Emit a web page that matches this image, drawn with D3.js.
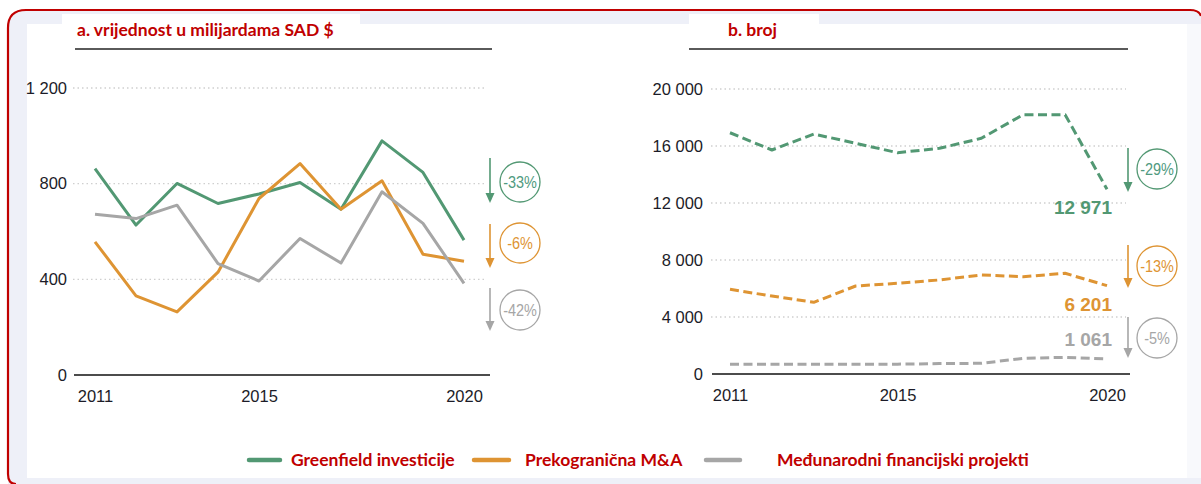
<!DOCTYPE html>
<html><head><meta charset="utf-8">
<script src="https://cdn.jsdelivr.net/npm/d3@7"></script>
<style>
html,body{margin:0;padding:0;background:#fff;}
svg{display:block;}
.tick text{font-family:"Liberation Sans Narrow","Arial Narrow","Liberation Sans",Arial,sans-serif;font-size:16.5px;fill:#1c1c28;}
</style></head>
<body>
<svg id="chart" width="1201" height="484"></svg>
<script>
// ---- data ----
const years = [2011,2012,2013,2014,2015,2016,2017,2018,2019,2020];
const valueGreenfield = [863,627,801,717,757,805,693,979,847,564];
const valueMA = [557,331,264,430,738,884,693,812,505,476];
const valueProject = [672,654,710,466,393,571,468,766,634,383];
const countGreenfield = [16930,15720,16840,16190,15530,15840,16540,18200,18200,12971];
const countMA = [5940,5470,5030,6175,6365,6600,6950,6830,7066,6201];
const countProject = [680,690,690,690,690,730,750,1100,1170,1061];
const valueTicks = [0,400,800,1200];
const countTicks = [0,4000,8000,12000,16000,20000];
const yearTicks = [2011,2015,2020];
const valueChanges = ["-33%","-6%","-42%"];
const countChanges = ["-29%","-13%","-5%"];
const countLastLabels = ["12 971","6 201","1 061"];
const seriesNames = ["Greenfield investicije","Prekogranična M&A","Međunarodni financijski projekti"];
const panelTitles = ["a. vrijednost u milijardama SAD $","b. broj"];
const colors = ["#529873","#de9433","#a6a6a6"];

const svg = d3.select("#chart");
const red = "#c00000";
const fmt = d => d3.format(",")(d).replace(/,/g," ");

// ---- frame ----
svg.append("path")
  .attr("d","M8,484 L8,28 Q8,10 26,10 L1190,10 Q1201,10 1201,20 L1201,484 Z")
  .attr("fill","#eef0f8");
svg.append("rect").attr("x",27).attr("y",24).attr("width",1160).attr("height",454).attr("fill","#fff");
svg.append("rect").attr("x",62).attr("y",14).attr("width",298).attr("height",12).attr("fill","#fff");
svg.append("rect").attr("x",689).attr("y",14).attr("width",130).attr("height",12).attr("fill","#fff");
svg.append("rect").attr("x",1187).attr("y",24).attr("width",14).attr("height",454).attr("fill","#f8f9fc");
svg.append("path")
  .attr("d","M16,484 Q8,484 8,474 L8,28 Q8,10 26,10 L1190,10 Q1199,10 1201,16")
  .attr("fill","none").attr("stroke",red).attr("stroke-width",2.2);

// ---- panels ----
function panel(cfg){
  const g = svg.append("g");
  const x = d3.scaleLinear().domain([2011,2020]).range(cfg.xr);
  const y = d3.scaleLinear().domain(cfg.ydom).range(cfg.yr);

  // title
  g.append("text").attr("x",cfg.titleX).attr("y",36).text(cfg.title)
    .attr("font-family","Lato, 'Open Sans', sans-serif").attr("font-weight","bold")
    .attr("font-size",17.5).attr("fill",red);
  g.append("line").attr("x1",cfg.lineX[0]).attr("x2",cfg.lineX[1]).attr("y1",49).attr("y2",49)
    .attr("stroke","#5a5a5a").attr("stroke-width",2);

  // grid
  g.append("g").selectAll("line").data(cfg.ticks.filter(d=>d>0)).join("line")
    .attr("x1",cfg.gridX[0]).attr("x2",cfg.gridX[1])
    .attr("y1",d=>y(d)).attr("y2",d=>y(d))
    .attr("stroke","#cfcfcf").attr("stroke-width",1.3).attr("stroke-dasharray","1.5,3");

  // y axis
  const ya = g.append("g").attr("transform",`translate(${cfg.gridX[0]},0)`)
    .call(d3.axisLeft(y).tickValues(cfg.ticks).tickFormat(fmt).tickSize(0).tickPadding(cfg.yPad));
  ya.select(".domain").remove();

  // x axis
  const xa = g.append("g").attr("transform",`translate(0,${y(0)})`)
    .call(d3.axisBottom(x).tickValues(yearTicks).tickFormat(d3.format("d")).tickSize(0).tickPadding(15));
  xa.select(".domain").remove();
  g.append("line").attr("x1",cfg.gridX[0]+1).attr("x2",cfg.gridX[1]+4)
    .attr("y1",y(0)).attr("y2",y(0)).attr("stroke","#111").attr("stroke-width",1.5);

  // lines
  const line = d3.line().x((d,i)=>x(years[i])).y(d=>y(d));
  cfg.series.forEach((s,k)=>{
    g.append("path").datum(s).attr("d",line).attr("fill","none")
      .attr("stroke",colors[k]).attr("stroke-width",3)
      .attr("stroke-linejoin","round")
      .attr("stroke-dasharray",cfg.dashed ? "9,4.5" : null);
  });

  // change arrows + circles
  cfg.changes.forEach((c,k)=>{
    const a = cfg.arrows[k];
    const col = colors[k];
    g.append("line").attr("x1",cfg.arrowX).attr("x2",cfg.arrowX)
      .attr("y1",a[0]).attr("y2",a[1]-8).attr("stroke",col).attr("stroke-width",1.6);
    g.append("path").attr("d",`M${cfg.arrowX-4.5},${a[1]-10} L${cfg.arrowX+4.5},${a[1]-10} L${cfg.arrowX},${a[1]} Z`)
      .attr("fill",col);
    g.append("circle").attr("cx",cfg.circX).attr("cy",a[2]).attr("r",20)
      .attr("fill","#fff").attr("stroke",col).attr("stroke-width",1.3);
    g.append("text").attr("transform",`translate(${cfg.circX},${a[2]}) scale(0.85,1)`)
      .attr("dy","0.36em")
      .attr("text-anchor","middle").text(c)
      .attr("font-family","'Liberation Sans',Arial,sans-serif")
      .attr("font-size",17).attr("fill",k===0?"#4f9a80":col);
  });
  return {g,x,y};
}

panel({
  title: panelTitles[0], titleX: 77, lineX:[75,492],
  xr:[95,464], ydom:[0,1200], yr:[375,88], ticks:valueTicks,
  gridX:[73,486], yPad:6,
  series:[valueGreenfield,valueMA,valueProject], dashed:false,
  changes:valueChanges, arrowX:490, circX:520,
  arrows:[[158,203,182],[224,268,243],[288,331,310]]
});

const right = panel({
  title: panelTitles[1], titleX: 728, lineX:[689,1128],
  xr:[730,1107], ydom:[0,20000], yr:[374,89], ticks:countTicks,
  gridX:[711,1126], yPad:8,
  series:[countGreenfield,countMA,countProject], dashed:true,
  changes:countChanges, arrowX:1128, circX:1157,
  arrows:[[148,192,169],[245,288,266],[317,358,338]]
});

// last value labels
const labY = [214,311,346];
countLastLabels.forEach((t,k)=>{
  right.g.append("text").attr("x",1112).attr("y",labY[k]).attr("text-anchor","end")
    .text(t).attr("font-family","'Liberation Sans',Arial,sans-serif").attr("font-weight","bold")
    .attr("font-size",19).attr("fill",colors[k]);
});

// legend
const legX = [[249,280,291],[474,509,525],[706,740,777]];
const leg = svg.append("g");
seriesNames.forEach((n,k)=>{
  leg.append("line").attr("x1",legX[k][0]).attr("x2",legX[k][1]).attr("y1",460).attr("y2",460)
    .attr("stroke",colors[k]).attr("stroke-width",4.5).attr("stroke-linecap","round");
  leg.append("text").attr("x",legX[k][2]).attr("y",460).attr("dy","0.35em").text(n)
    .attr("font-family","Lato, 'Open Sans', sans-serif").attr("font-weight","bold")
    .attr("font-size",17.5).attr("fill",red);
});
</script>
</body></html>
